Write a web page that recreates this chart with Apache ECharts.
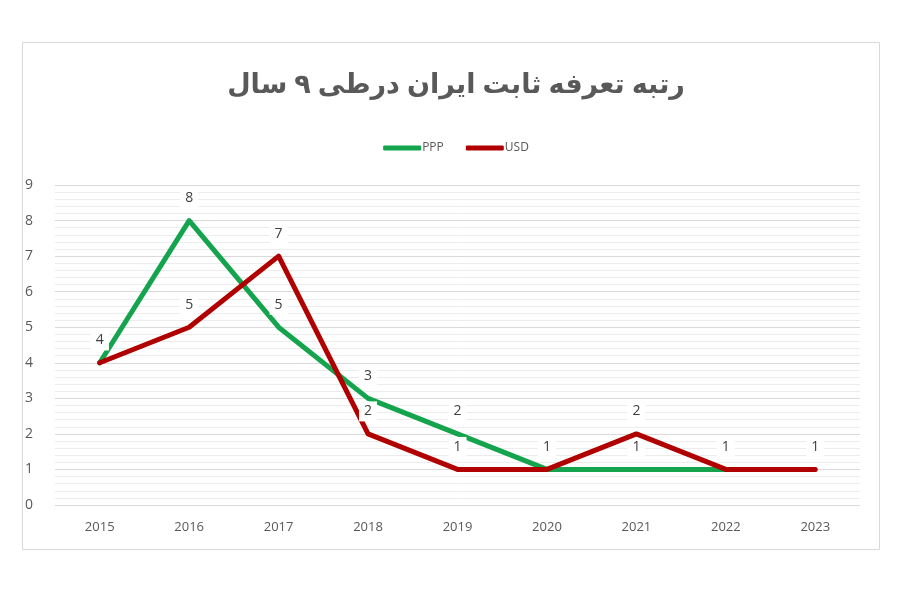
<!DOCTYPE html>
<html><head><meta charset="utf-8">
<script src="https://cdn.jsdelivr.net/npm/echarts@6/dist/echarts.min.js"></script>
<style>html,body{margin:0;padding:0;background:#fff}#c{width:912px;height:600px}</style>
</head><body><div id="c"></div>
<script>
const years = ['2015','2016','2017','2018','2019','2020','2021','2022','2023'];
const ppp = [4, 8, 5, 3, 2, 1, 1, 1, null];
const usd = [4, 5, 7, 2, 1, 1, 2, 1, 1];
const titleText = 'رتبه تعرفه ثابت ایران درطی ۹ سال';

const chart = echarts.init(document.getElementById('c'));
const lbl = {
  show: true, position: 'top', distance: 12, color: '#404040', fontSize: 14,
  fontFamily: 'Open Sans, Noto Sans, sans-serif',
  backgroundColor: '#fff', padding: [3, 5]
};
chart.setOption({
  animation: false,
  graphic: [{ type: 'rect', shape: { x: 22.5, y: 42.5, width: 857, height: 507 },
    style: { fill: 'none', stroke: '#d9d9d9', lineWidth: 1 }, z: -1 }],
  title: { text: titleText, left: 'center', top: 67,
    textStyle: { fontSize: 27, fontWeight: 'bold', color: '#595959', fontFamily: 'Noto Sans, DejaVu Sans, sans-serif' } },
  legend: { top: 137, left: 'center', itemWidth: 38, itemHeight: 5, itemGap: 22,
    icon: 'roundRect',
    textStyle: { color: '#595959', fontSize: 12, fontFamily: 'Open Sans, sans-serif', padding: [0,0,0,-4] },
    data: ['PPP', 'USD'] },
  grid: { left: 55, right: 52, top: 185, bottom: 95, containLabel: false },
  xAxis: { type: 'category', data: years, boundaryGap: true,
    axisLine: { show: false }, axisTick: { show: false },
    axisLabel: { color: '#595959', fontSize: 13, margin: 16, fontFamily: 'Open Sans, sans-serif' } },
  yAxis: { type: 'value', min: 0, max: 9, interval: 1,
    axisLine: { show: false }, axisTick: { show: false },
    axisLabel: { color: '#595959', fontSize: 14, margin: 22, fontFamily: 'Open Sans, sans-serif' },
    splitLine: { lineStyle: { color: '#d9d9d9', width: 1 } },
    minorTick: { show: false, splitNumber: 5 },
    minorSplitLine: { show: true, lineStyle: { color: '#ececec', width: 1 } } },
  series: [
    { name: 'PPP', type: 'line', data: ppp, symbol: 'circle', symbolSize: 1, showSymbol: true,
      color: '#14a44d', lineStyle: { width: 5, color: '#14a44d', cap: 'round', join: 'round' },
      label: lbl, z: 2 },
    { name: 'USD', type: 'line', data: usd, symbol: 'circle', symbolSize: 1, showSymbol: true,
      color: '#b00000', lineStyle: { width: 5, color: '#b00000', cap: 'round', join: 'round' },
      label: lbl, z: 3 }
  ]
});
</script></body></html>
